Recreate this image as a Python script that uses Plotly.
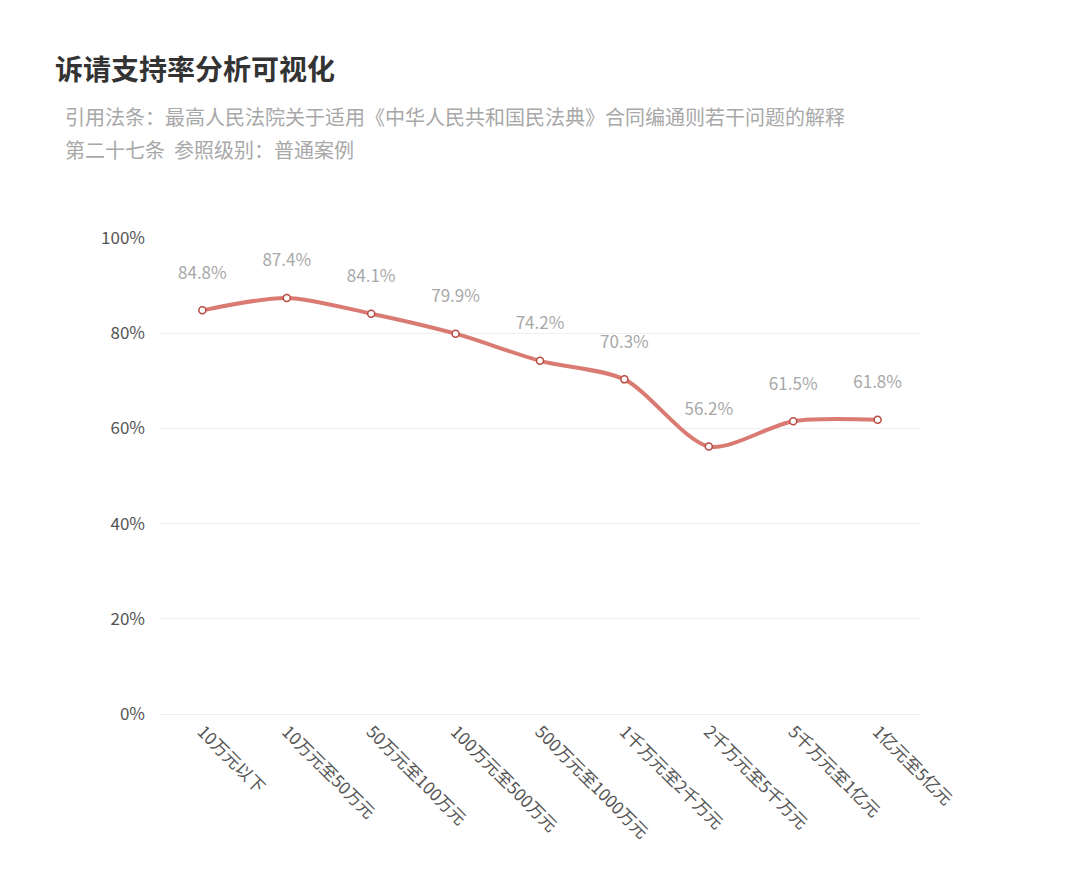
import plotly.graph_objects as go

categories = ["10万元以下", "10万元至50万元", "50万元至100万元", "100万元至500万元",
              "500万元至1000万元", "1千万元至2千万元", "2千万元至5千万元",
              "5千万元至1亿元", "1亿元至5亿元"]
support_rate = [84.8, 87.4, 84.1, 79.9, 74.2, 70.3, 56.2, 61.5, 61.8]
subtitle_lines = ["引用法条：最高人民法院关于适用《中华人民共和国民法典》合同编通则若干问题的解释",
                  "第二十七条  参照级别：普通案例"]

font = "Noto Sans CJK SC"

fig = go.Figure(go.Scatter(
    x=categories,
    y=support_rate,
    mode="lines+markers+text",
    line=dict(color="#d97b72", width=4, shape="spline", smoothing=0.8),
    marker=dict(size=7, color="white", line=dict(color="#b84a40", width=1.5)),
    text=[f"{v}%<br> " for v in support_rate],
    textposition="top center",
    textfont=dict(size=17, color="#a8a8a8", family=font),
    cliponaxis=False,
    hoverinfo="skip",
))

annotations = []
for i, line in enumerate(subtitle_lines):
    annotations.append(dict(
        text=line, xref="paper", yref="paper",
        x=-97 / 760, y=1 + (122 - 33 * i) / 476,
        xanchor="left", yanchor="middle", align="left", showarrow=False,
        font=dict(size=20, color="#a8a8a8", family=font),
    ))

fig.update_layout(
    width=1080, height=874,
    margin=dict(l=152, r=168, t=230, b=168),
    plot_bgcolor="white", paper_bgcolor="white",
    showlegend=False,
    font=dict(family=font),
    title=dict(
        text="<b>诉请支持率分析可视化</b>",
        x=47 / 1080, xanchor="left", y=1 - 62 / 874, yanchor="middle",
        font=dict(size=28, color="#333333", family=font),
    ),
    annotations=annotations,
    xaxis=dict(
        tickangle=45, tickfont=dict(size=17, color="#555555"),
        showgrid=False, showline=True, linecolor="#eeeeee", ticks="",
    ),
    yaxis=dict(
        range=[0, 100], dtick=20, ticksuffix="%",
        tickfont=dict(size=17, color="#555555"),
        gridcolor="#f0f0f0", zeroline=False, ticks="",
        ticklabelstandoff=14,
    ),
)

fig.write_html("out.html")
